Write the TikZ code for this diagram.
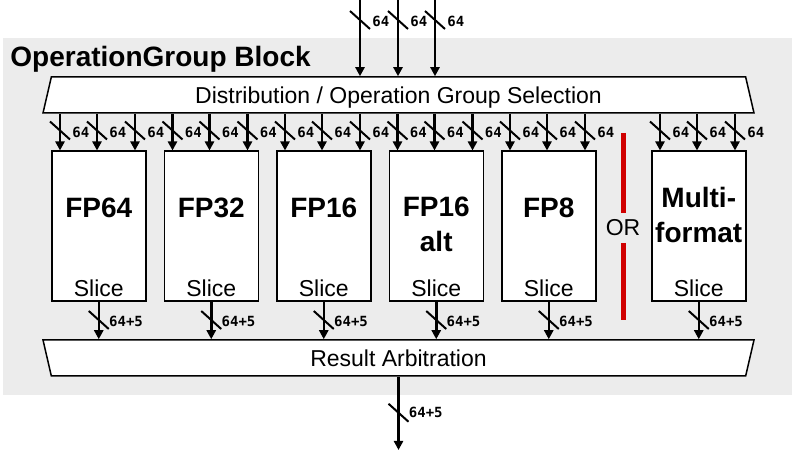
\documentclass[tikz,border=0pt]{standalone}
\usepackage{fontspec}
\setmainfont{Liberation Sans}
\newfontfamily\busfont{DejaVu Sans Mono}
\usetikzlibrary{arrows.meta,shapes.geometric}

\definecolor{blockgray}{RGB}{236,236,236}
\definecolor{orred}{RGB}{208,0,0}

\tikzset{
  bus/.style={line width=1.25pt, -{Triangle[length=4.5pt,width=4.5pt]}},
  buscut/.style={line width=1pt},
  buswidth/.style={font=\busfont\bfseries\fontsize{7}{8}\selectfont, anchor=west, inner sep=0pt},
  slicebox/.style={draw, line width=0.75pt, fill=white, minimum width=47pt, minimum height=75pt, inner sep=0pt},
  fmtname/.style={font=\bfseries\fontsize{14}{17.5}\selectfont, align=center, inner sep=0pt},
  slicetext/.style={font=\fontsize{11.5}{13}\selectfont, inner sep=0pt},
  stage/.style={trapezium, draw, fill=white, line width=0.75pt, trapezium stretches body, minimum width=355.5pt, minimum height=18pt, inner sep=0pt, text depth=0pt, font=\fontsize{11.5}{13}\selectfont},
  orbar/.style={draw=orred, line width=2.5pt}
}

\begin{document}
\begin{tikzpicture}[x=0.5pt, y=0.5pt]
	\useasboundingbox (0,0) rectangle (794,456);
	\fill[blockgray] (3,61) rectangle (792,418);
	\node[anchor=base west, inner sep=0pt, font=\bfseries\fontsize{14}{16}\selectfont] (title) at (10,389) {OperationGroup Block};
	\node[stage, trapezium angle=63.4] (dist) at (398.5,361) {Distribution / Operation Group Selection};
	\node[stage, trapezium angle=116.6] (res) at (398.5,98) {Result Arbitration};
	\foreach \x [count=\k] in {360,398,435} {
		\coordinate (src\k) at (\x,456);
		\draw[bus] (src\k) -- (src\k |- dist.north);
		\draw[buscut] (src\k) ++(-10,-11) -- ++(20,-18);
		\node[buswidth] at ([shift={(12,-21)}]src\k) {64};
	}
	\foreach \name/\x/\txt/\ty in {fp64/51/FP64/248, fp32/163.5/FP32/248, fp16/276/FP16/248, fpalt/388.5/{FP16\\alt}/231.5, fp8/501/FP8/248, multi/651/{Multi-\\format}/241.5} {
		\node[slicebox, anchor=south west] (\name) at (\x,154) {};
		\node[fmtname] (\name-fmt) at (\name.center |- 0,\ty) {\txt};
		\node[slicetext, anchor=base] (\name-sl) at (\name.center |- 0,159) {Slice};
		\foreach \dx [count=\k] in {9,46,84} {
			\coordinate (\name-in\k) at ([shift={(\dx,0)}]\name.north west);
			\draw[bus] (\name-in\k |- dist.south) -- (\name-in\k);
			\draw[buscut] (\name-in\k) ++(-10,29) -- ++(20,-18);
			\node[buswidth] at ([shift={(12,18)}]\name-in\k) {64};
		}
		\draw[bus] (\name.south) -- (\name.south |- res.north);
		\draw[buscut] (\name.south) ++(-10,-9) -- ++(20,-18);
		\node[buswidth] at ([shift={(10,-19)}]\name.south) {64+5};
	}
	\node[slicetext, minimum height=14.5pt] (or) at (623,228) {OR};
	\coordinate (orTop) at (623,323);
	\coordinate (orBot) at (623,136);
	\draw[orbar] (orTop) -- (or.north);
	\draw[orbar] (or.south) -- (orBot);
	\coordinate (sink) at (res.south |- 0,6);
	\draw[bus] (res.south) -- (sink);
	\draw[buscut] (res.south) ++(-10,-27) -- ++(20,-18);
	\node[buswidth] at ([shift={(10,-36)}]res.south) {64+5};
\end{tikzpicture}
\end{document}
